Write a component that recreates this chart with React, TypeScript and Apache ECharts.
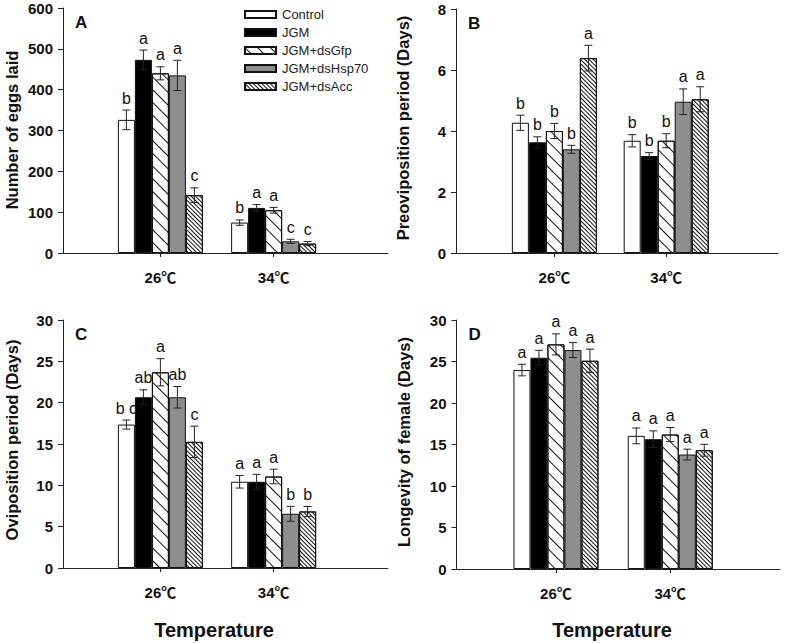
import React, { useEffect, useRef } from 'react';
import * as echarts from 'echarts';

const treatments = ['Control', 'JGM', 'JGM+dsGfp', 'JGM+dsHsp70', 'JGM+dsAcc'];
const temperatures = ['26℃', '34℃'];

// each row = one treatment, values for [26℃, 34℃]
const eggsMean = [[326, 74.5], [473, 110.5], [440, 104.7], [435, 28.6], [141.6, 23]];
const eggsSE = [[24, 6.5], [24, 8], [16, 7], [37, 5], [18, 5]];
const eggsLetters = [['b', 'b'], ['a', 'a'], ['a', 'a'], ['a', 'c'], ['c', 'c']];

const preMean = [[4.27, 3.68], [3.63, 3.18], [4.0, 3.68], [3.4, 4.96], [6.39, 5.04]];
const preSE = [[0.25, 0.2], [0.18, 0.11], [0.25, 0.23], [0.13, 0.42], [0.42, 0.41]];
const preLetters = [['b', 'b'], ['b', 'b'], ['b', 'b'], ['b', 'a'], ['a', 'a']];

const oviMean = [[17.35, 10.43], [20.65, 10.43], [23.67, 11.07], [20.65, 6.56], [15.26, 6.84]];
const oviSE = [[0.55, 0.76], [0.9, 0.9], [1.65, 0.88], [1.3, 0.9], [1.9, 0.6]];
const oviLetters = [['b c', 'a'], ['ab', 'a'], ['a', 'a'], ['ab', 'b'], ['c', 'b']];

const lonMean = [[23.97, 16.04], [25.45, 15.64], [27.06, 16.2], [26.38, 13.79], [25.09, 14.31]];
const lonSE = [[0.7, 0.95], [0.9, 1.0], [1.27, 0.85], [0.9, 0.65], [1.4, 0.72]];
const lonLetters = [['a', 'a'], ['a', 'a'], ['a', 'a'], ['a', 'a'], ['a', 'a']];

const yTitles = ['Number of eggs laid', 'Preoviposition period (Days)', 'Oviposition period (Days)', 'Longevity of female (Days)'];
const panelTags = ['A', 'B', 'C', 'D'];
const yMax = [600, 8, 30, 30];
const yStep = [100, 2, 5, 5];

const FONT = "'Liberation Sans', Arial, 'Noto Sans CJK SC', sans-serif";
const BAR_W = 17;

const panels = [
  { mean: eggsMean, se: eggsSE, letters: eggsLetters, grid: { left: 63, top: 8, width: 325, height: 245 }, xr: [0.14, 3.01] },
  { mean: preMean, se: preSE, letters: preLetters, grid: { left: 456, top: 9, width: 322, height: 244 }, xr: [0.12, 3.0] },
  { mean: oviMean, se: oviSE, letters: oviLetters, grid: { left: 63, top: 320, width: 325, height: 248 }, xr: [0.14, 3.01] },
  { mean: lonMean, se: lonSE, letters: lonLetters, grid: { left: 456.5, top: 320, width: 323.5, height: 249 }, xr: [0.13, 2.96] },
];

const sparseDecal = {
  symbol: 'rect', symbolSize: 1, dashArrayX: [1, 0], dashArrayY: [1, 8],
  rotation: Math.PI / 4, color: '#111', backgroundColor: '#ffffff',
};
const denseDecal = {
  symbol: 'rect', symbolSize: 1, dashArrayX: [1, 0], dashArrayY: [1, 2],
  rotation: Math.PI / 4, color: '#111', backgroundColor: '#ffffff',
};

const barStyles: any[] = [
  { color: '#ffffff' },
  { color: '#000000' },
  { color: '#ffffff', decal: sparseDecal },
  { color: '#8e8e8e' },
  { color: '#ffffff', decal: denseDecal },
];

export default function App() {
  const ref = useRef<HTMLDivElement>(null);
  useEffect(() => {
    if (!ref.current) return;
    const chart = echarts.init(ref.current, null, { renderer: 'svg' });

    const xAxes: any[] = [];
    const yAxes: any[] = [];
    const grids: any[] = [];
    const series: any[] = [];
    const graphics: any[] = [];

    panels.forEach((p, pi) => {
      grids.push({ ...p.grid, containLabel: false });
      xAxes.push({
        type: 'value', gridIndex: pi, min: p.xr[0], max: p.xr[1],
        splitLine: { show: false },
        axisLine: { show: true, onZero: false, lineStyle: { color: '#222', width: 1 } },
        axisTick: { show: true, customValues: [1, 2], length: 4, lineStyle: { color: '#222' } },
        axisLabel: {
          show: true, customValues: [1, 2], margin: 17,
          formatter: (v: number) => temperatures[Math.round(v) - 1] || '',
          fontFamily: FONT, fontWeight: 'bold', fontSize: 15, color: '#111',
        },
      });
      yAxes.push({
        type: 'value', gridIndex: pi, min: 0, max: yMax[pi], interval: yStep[pi],
        splitLine: { show: false },
        axisLine: { show: true, lineStyle: { color: '#222', width: 1 } },
        axisTick: { show: true, length: 5, lineStyle: { color: '#222' } },
        axisLabel: { fontFamily: FONT, fontWeight: 'bold', fontSize: 15, color: '#111', margin: 10 },
      });

      treatments.forEach((name, t) => {
        series.push({
          type: 'bar', name, xAxisIndex: pi, yAxisIndex: pi,
          barWidth: BAR_W, barGap: '0%',
          data: p.mean[t].map((v, k) => [k + 1, v]),
          itemStyle: { ...barStyles[t], borderColor: '#111', borderWidth: 1 },
          emphasis: { disabled: true },
          z: 2,
        });
        const letters = p.letters[t];
        series.push({
          type: 'custom', name: `err-${pi}-${t}`, xAxisIndex: pi, yAxisIndex: pi,
          data: p.mean[t].map((v, k) => [k + 1, v, p.se[t][k]]),
          encode: { x: 0, y: 1 },
          z: 5, silent: true,
          renderItem: (params: any, api: any) => {
            const x = api.value(0), m = api.value(1), s = api.value(2);
            const c = api.coord([x, m]);
            const top = api.coord([x, m + s]);
            const bot = api.coord([x, m - s]);
            const cx = c[0] + (t - 2) * BAR_W;
            const cap = 4;
            const ls = { stroke: '#222', lineWidth: 1 };
            return {
              type: 'group',
              children: [
                { type: 'line', shape: { x1: cx, y1: top[1], x2: cx, y2: bot[1] }, style: ls },
                { type: 'line', shape: { x1: cx - cap, y1: top[1], x2: cx + cap, y2: top[1] }, style: ls },
                { type: 'line', shape: { x1: cx - cap, y1: bot[1], x2: cx + cap, y2: bot[1] }, style: ls },
                {
                  type: 'text', x: cx, y: top[1] - 4,
                  style: { text: letters[params.dataIndex], fontFamily: FONT, fontSize: 16, fill: '#111', align: 'center', verticalAlign: 'bottom' },
                },
              ],
            };
          },
        });
      });

      // panel tag
      graphics.push({
        type: 'text', left: p.grid.left + 12, top: p.grid.top + 6,
        style: { text: panelTags[pi], fontFamily: FONT, fontWeight: 'bold', fontSize: 17, fill: '#111' },
      });
    });

    // y axis titles
    const yTitlePos = [[12, 130], [403, 128], [12, 440], [404, 442]];
    yTitles.forEach((txt, i) => {
      graphics.push({
        type: 'text', x: yTitlePos[i][0], y: yTitlePos[i][1], rotation: Math.PI / 2,
        style: { text: txt, fontFamily: FONT, fontWeight: 'bold', fontSize: 16.5, fill: '#111', align: 'center', verticalAlign: 'middle' },
      });
    });
    // x axis titles
    [[214, 630], [612, 630]].forEach((pos) => {
      graphics.push({
        type: 'text', x: pos[0], y: pos[1],
        style: { text: 'Temperature', fontFamily: FONT, fontWeight: 'bold', fontSize: 20, fill: '#111', align: 'center', verticalAlign: 'middle' },
      });
    });

    chart.setOption({
      animation: false,
      backgroundColor: '#ffffff',
      grid: grids,
      xAxis: xAxes,
      yAxis: yAxes,
      legend: {
        data: treatments, orient: 'vertical', left: 239, top: 3,
        icon: 'rect', itemWidth: 31, itemHeight: 7, itemGap: 5,
        selectedMode: false,
        textStyle: { fontFamily: FONT, fontSize: 13, color: '#222', padding: [0, 0, 0, 1] },
      },
      series,
      graphic: graphics,
    });
    return () => chart.dispose();
  }, []);
  return <div ref={ref} style={{ position: 'absolute', left: 0, top: 0, width: 787, height: 643 }} />;
}
